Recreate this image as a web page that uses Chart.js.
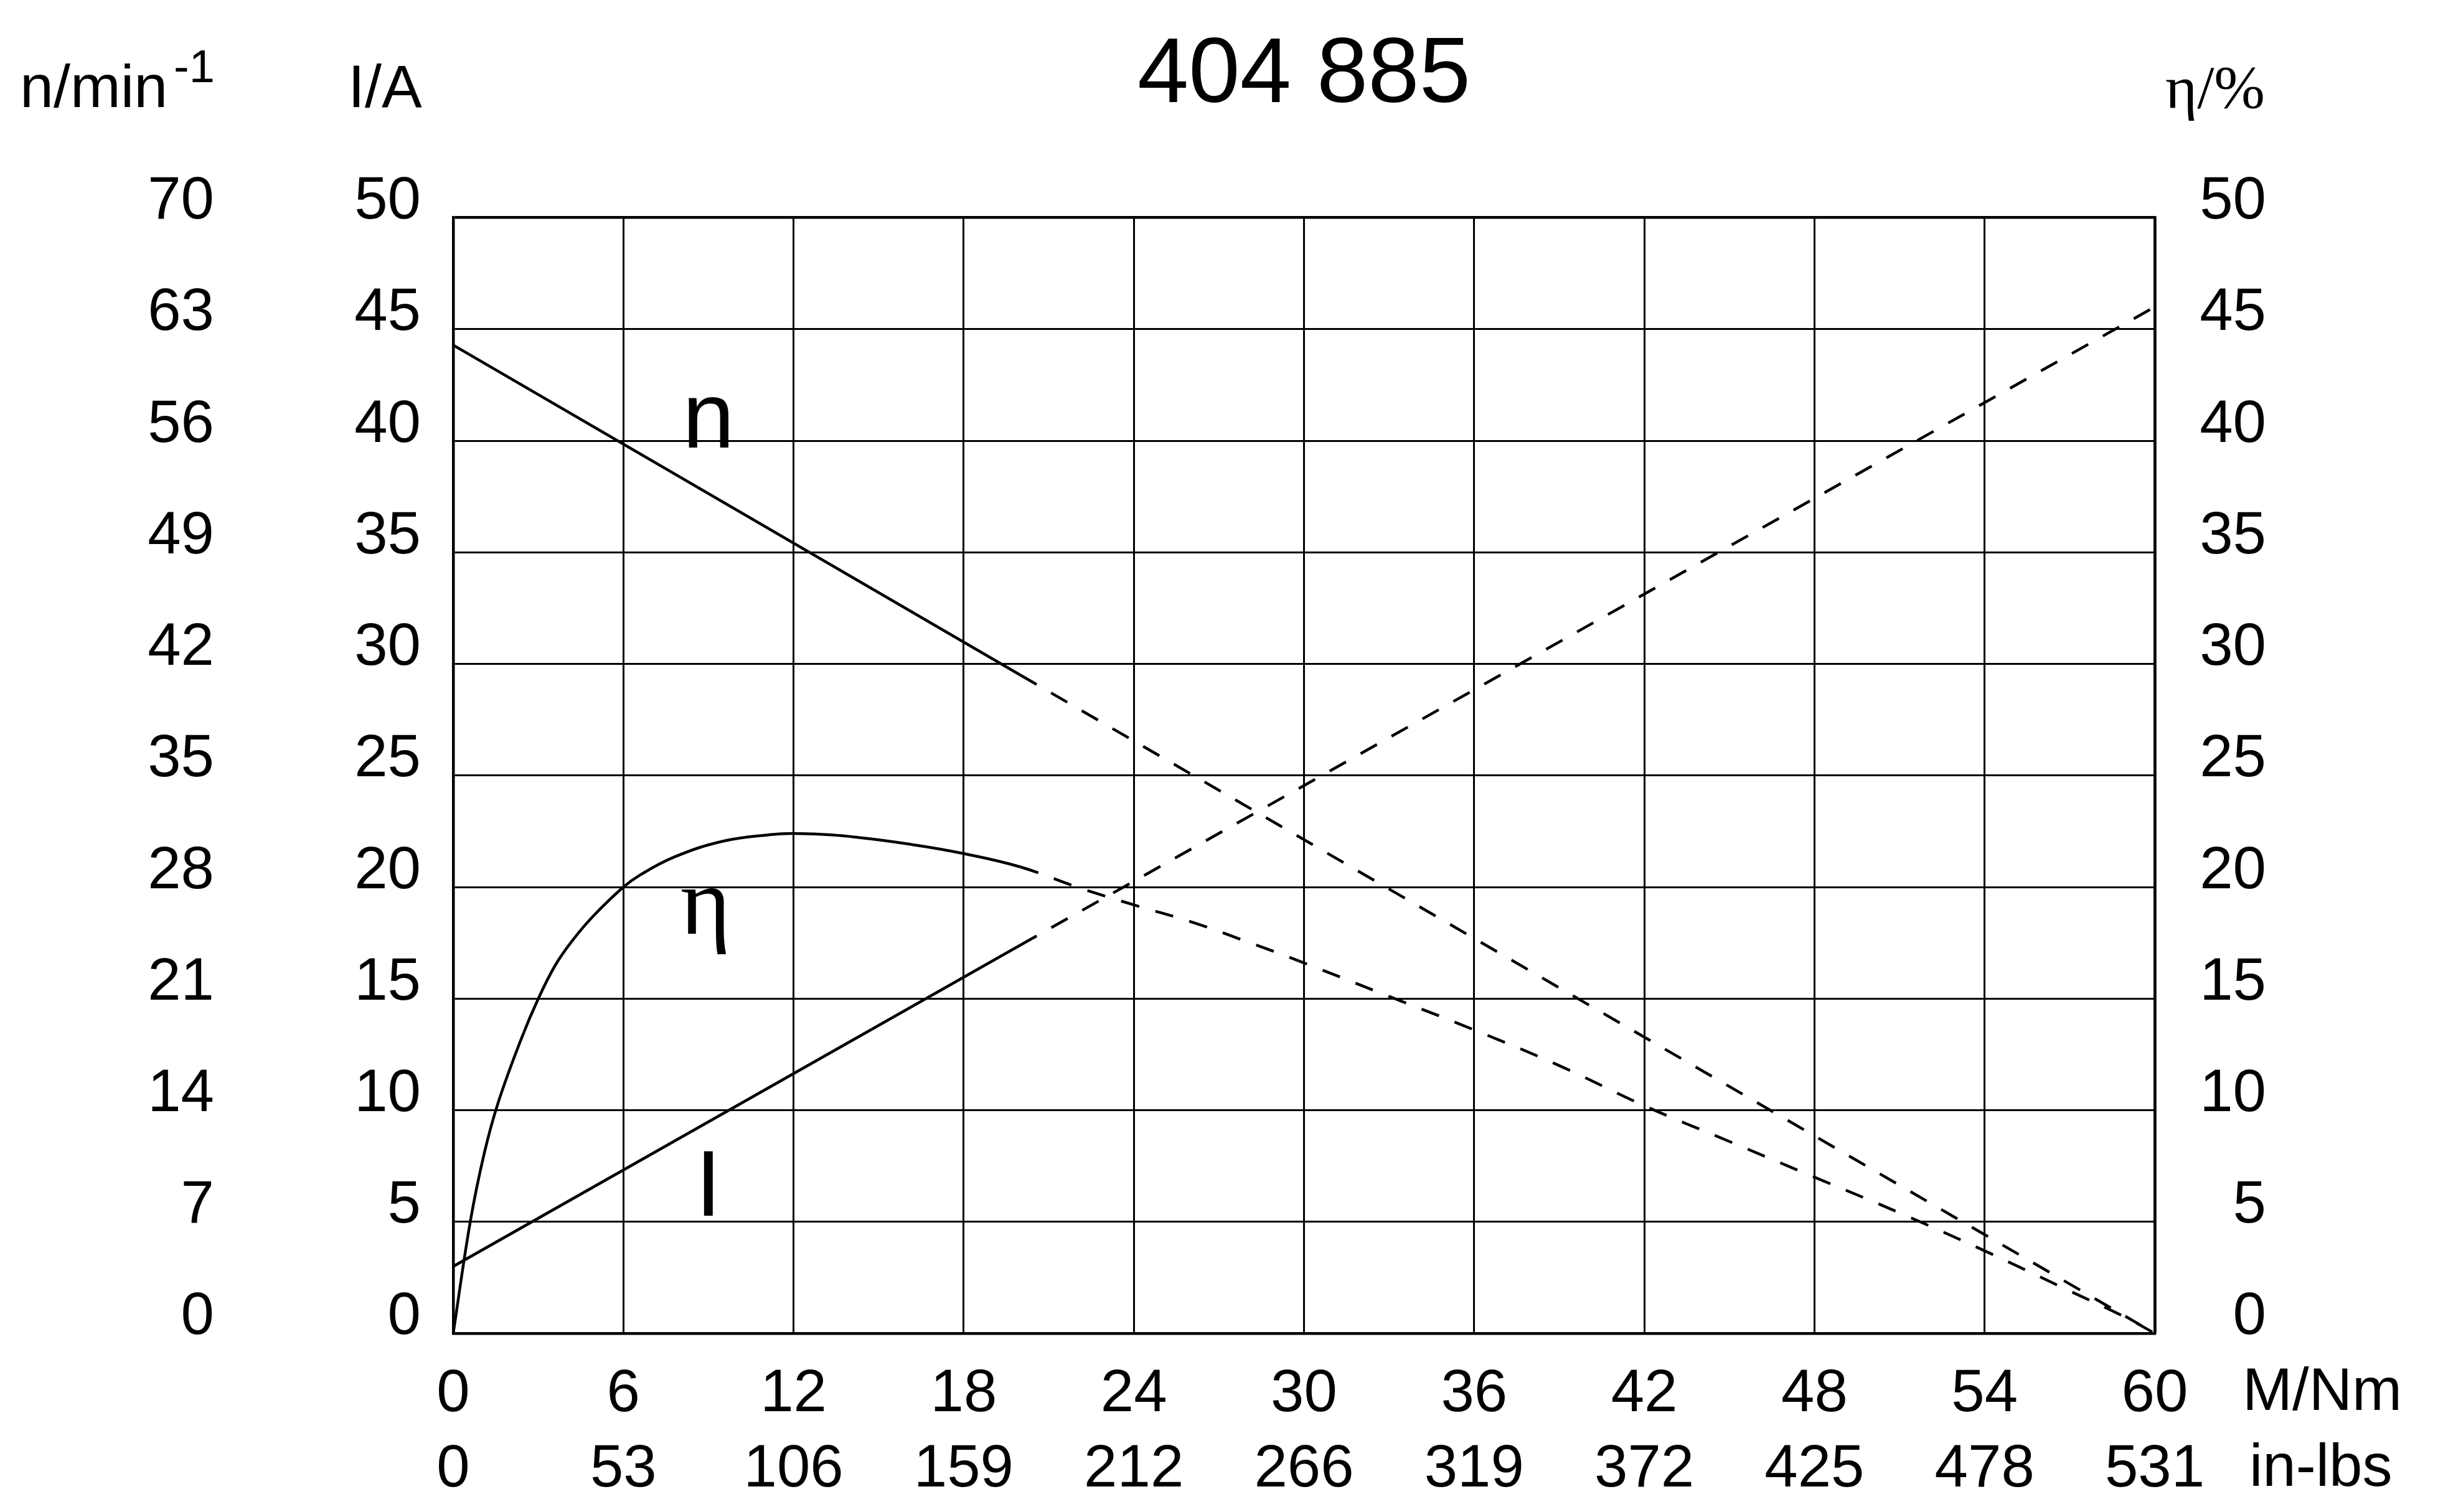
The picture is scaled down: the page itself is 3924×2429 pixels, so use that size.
<!DOCTYPE html>
<html>
<head>
<meta charset="utf-8">
<title>404 885</title>
<script src="https://cdn.jsdelivr.net/npm/chart.js@4/dist/chart.umd.min.js"></script>
<style>
    html, body { margin: 0; padding: 0; background: #fff; }
    #wrap { width: 3924px; height: 2429px; }
</style>
</head>
<body>
<div id="wrap"><canvas id="motorChart"></canvas></div>
<script>
// torque points (M/Nm) for the straight lines n and I
var torque = [0, 20, 60]
var speed = [62, 41.3, 0]          // n/min-1
var current = [3.0, 17.4, 46.0]    // I/A

// efficiency curve
var etaTorque = [0, 0.6, 1.1, 1.6, 2.4, 3.0, 3.6, 4.2, 4.9, 6.0, 6.6, 7.8, 9.5, 11.2, 12.0, 13.7, 16.2, 18.0, 20, 22, 24, 26, 28, 30, 33, 36, 39, 42, 45, 48, 51, 54, 57, 59, 60]
var efficiency = [0, 5.0, 8.1, 10.4, 13.2, 15.0, 16.5, 17.6, 18.65, 20.0, 20.55, 21.35, 22.05, 22.35, 22.4, 22.3, 21.9, 21.5, 20.9, 20.0, 19.2, 18.45, 17.55, 16.6, 15.1, 13.6, 12.0, 10.2, 8.6, 7.0, 5.4, 3.7, 1.9, 0.7, 0]

// tick labels
var nmTicks = ['0', '6', '12', '18', '24', '30', '36', '42', '48', '54', '60']
var inLbsTicks = ['0', '53', '106', '159', '212', '266', '319', '372', '425', '478', '531']
var speedTicks = ['0', '7', '14', '21', '28', '35', '42', '49', '56', '63', '70']
var currentTicks = ['0', '5', '10', '15', '20', '25', '30', '35', '40', '45', '50']
var etaTicks = ['0', '5', '10', '15', '20', '25', '30', '35', '40', '45', '50']

var SANS = '"Liberation Sans", Arial, Helvetica, sans-serif'
var SERIF = '"Liberation Serif", "Times New Roman", serif'
var DASH_FROM = 20

var fnPoints = (xs, ys) => xs.map((x, i) => ({ x: x, y: ys[i] }))

var fnLine = (data, axis) => ({
    data: data,
    yAxisID: axis,
    borderColor: '#000',
    borderWidth: 4.5,
    pointRadius: 0,
    fill: false,
    borderCapStyle: 'butt',
    segment: {
        borderDash: ctx => ctx.p0.parsed.x >= DASH_FROM ? [30, 27] : undefined
    }
})

var textLabels = {
    id: 'textLabels',
    afterDraw: (chart) => {
        var ctx = chart.ctx
        var sx = chart.scales.x
        var sy = chart.scales.y
        ctx.save()
        ctx.fillStyle = '#000'
        ctx.textBaseline = 'alphabetic'

        // axis headers
        ctx.textAlign = 'left'
        ctx.font = '97px ' + SANS
        ctx.fillText('n/min', 32, 172)
        ctx.fillText('I/A', 559, 172)
        ctx.font = '74px ' + SANS
        ctx.fillText('-1', 279, 132)
        ctx.textAlign = 'right'
        ctx.font = '98px ' + SERIF
        ctx.fillText('η/%', 3638, 173)

        // x axis units
        ctx.textAlign = 'left'
        ctx.font = '96px ' + SANS
        ctx.fillText('M/Nm', 3602, 2265)
        ctx.fillText('in-lbs', 3613, 2387)

        // curve names
        ctx.textAlign = 'center'
        ctx.font = '150px ' + SANS
        ctx.fillText('n', sx.getPixelForValue(9.0), sy.getPixelForValue(39.7))
        ctx.fillText('I', sx.getPixelForValue(9.0), sy.getPixelForValue(5.27))
        ctx.font = '155px ' + SERIF
        ctx.fillText('η', sx.getPixelForValue(8.9), sy.getPixelForValue(17.9))
        ctx.restore()
    }
}

var gridWidth = (ctx, last) => ctx.tick && ctx.tick.value === last ? 4.5 : 3

var ctxC = document.getElementById('motorChart').getContext('2d')
var motorChart = new Chart(ctxC, {
    type: 'line',
    data: {
        datasets: [
            fnLine(fnPoints(torque, speed), 'yN'),
            fnLine(fnPoints(torque, current), 'y'),
            Object.assign(fnLine(fnPoints(etaTorque, efficiency), 'yEta'), { tension: 0.4 })
        ]
    },
    options: {
        responsive: true,
        maintainAspectRatio: false,
        devicePixelRatio: 1,
        animation: false,
        layout: { padding: { left: 0, right: 284, top: 0, bottom: 0 } },
        plugins: {
            legend: { display: false },
            tooltip: { enabled: false },
            title: {
                display: true,
                text: '404 885',
                color: '#000',
                fullSize: false,
                font: { family: SANS, size: 148, weight: 'normal', lineHeight: 1.2 },
                padding: { top: 34, bottom: 138 }
            }
        },
        scales: {
            x: {
                type: 'linear',
                min: 0,
                max: 60,
                grid: { color: '#000', lineWidth: ctx => gridWidth(ctx, 60), drawTicks: false },
                border: { color: '#000', width: 4.5 },
                ticks: {
                    stepSize: 6,
                    autoSkip: false,
                    maxRotation: 0,
                    padding: 38,
                    color: '#000',
                    font: { family: SANS, size: 96, lineHeight: 1.26 },
                    callback: (v, i) => [nmTicks[i], inLbsTicks[i]]
                },
                afterFit: (scale) => { scale.height = 287 }
            },
            y: {
                type: 'linear',
                position: 'left',
                weight: 0,
                min: 0,
                max: 50,
                grid: { color: '#000', lineWidth: ctx => gridWidth(ctx, 50), drawTicks: false },
                border: { color: '#000', width: 4.5 },
                ticks: {
                    stepSize: 5,
                    autoSkip: false,
                    padding: 52,
                    labelOffset: -25,
                    color: '#000',
                    font: { family: SANS, size: 96 },
                    callback: (v, i) => currentTicks[i]
                },
                afterFit: (scale) => { scale.width = 300 }
            },
            yN: {
                type: 'linear',
                position: 'left',
                weight: 1,
                min: 0,
                max: 70,
                grid: { display: false, drawTicks: false },
                border: { display: false },
                ticks: {
                    stepSize: 7,
                    autoSkip: false,
                    padding: 84,
                    labelOffset: -25,
                    color: '#000',
                    font: { family: SANS, size: 96 },
                    callback: (v, i) => speedTicks[i]
                },
                afterFit: (scale) => { scale.width = 428 }
            },
            yEta: {
                type: 'linear',
                position: 'right',
                min: 0,
                max: 50,
                grid: { drawOnChartArea: false, drawTicks: false },
                border: { color: '#000', width: 4.5 },
                ticks: {
                    stepSize: 5,
                    autoSkip: false,
                    crossAlign: 'far',
                    labelOffset: -25,
                    color: '#000',
                    font: { family: SANS, size: 96 },
                    callback: (v, i) => etaTicks[i]
                },
                afterFit: (scale) => { scale.width = 179 }
            }
        }
    },
    plugins: [textLabels]
})
</script>
</body>
</html>
